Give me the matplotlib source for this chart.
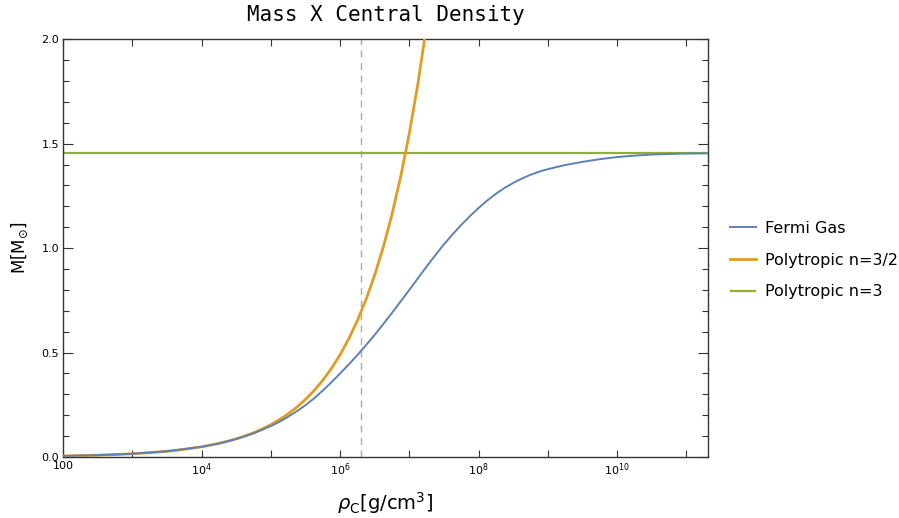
import matplotlib
matplotlib.use("Agg")
import matplotlib.pyplot as plt
from matplotlib.ticker import FixedLocator, FixedFormatter, NullFormatter

# ---- data ----
fermi_logrho = [2.00, 2.50, 3.00, 3.50, 4.00, 4.25, 4.50, 4.75,
                5.00, 5.125, 5.25, 5.375, 5.50, 5.625, 5.75, 5.875,
                6.00, 6.125, 6.25, 6.375, 6.50, 6.625, 6.75, 6.875,
                7.00, 7.125, 7.25, 7.375, 7.50, 7.625, 7.75, 7.875,
                8.00, 8.125, 8.25, 8.375, 8.50, 8.625, 8.75, 8.875,
                9.00, 9.25, 9.50, 9.75, 10.00, 10.25, 10.50, 10.75, 11.00, 11.31]
fermi_mass = [0.0049, 0.0087, 0.0155, 0.0275, 0.0488, 0.0648, 0.0860, 0.113,
              0.148, 0.169, 0.193, 0.219, 0.248, 0.281, 0.318, 0.358,
              0.400, 0.443, 0.488, 0.536, 0.585, 0.637, 0.690, 0.745,
              0.800, 0.856, 0.912, 0.966, 1.018, 1.066, 1.111, 1.153,
              1.192, 1.228, 1.260, 1.288, 1.312, 1.333, 1.351, 1.366,
              1.378, 1.398, 1.413, 1.426, 1.436, 1.443, 1.448, 1.451, 1.453, 1.454]

poly32_logrho = [2.000, 2.125, 2.250, 2.375, 2.500, 2.625, 2.750, 2.875,
                 3.000, 3.125, 3.250, 3.375, 3.500, 3.625, 3.750, 3.875,
                 4.000, 4.125, 4.250, 4.375, 4.500, 4.625, 4.750, 4.875,
                 5.000, 5.125, 5.250, 5.375, 5.500, 5.625, 5.750, 5.875,
                 6.000, 6.125, 6.250, 6.375, 6.500, 6.625, 6.750, 6.875,
                 7.000, 7.125, 7.250]
poly32_mass = [0.0049, 0.00566, 0.00653, 0.00755, 0.00871, 0.01006, 0.01162, 0.01342,
               0.0155, 0.01789, 0.02066, 0.02386, 0.02755, 0.03182, 0.03674, 0.04243,
               0.049, 0.0566, 0.0653, 0.0755, 0.0871, 0.1006, 0.1162, 0.1342,
               0.155, 0.1789, 0.2066, 0.2386, 0.2755, 0.3182, 0.3674, 0.4243,
               0.490, 0.5658, 0.6534, 0.7546, 0.8714, 1.0062, 1.1620, 1.3418,
               1.5495, 1.7893, 2.0663]

poly3_rho = [1e2, 2e11]
poly3_mass = [1.456, 1.456]

chandra_rho = 2.0e6

series_labels = ["Fermi Gas", "Polytropic n=3/2", "Polytropic n=3"]
colors = ["#5E81B5", "#E19C24", "#8FB032"]

x_major = [1e2, 1e4, 1e6, 1e8, 1e10]
x_major_labels = ["100", r"$10^{4}$", r"$10^{6}$", r"$10^{8}$", r"$10^{10}$"]
x_minor = [1e3, 1e5, 1e7, 1e9, 1e11]
y_major = [0.0, 0.5, 1.0, 1.5, 2.0]
y_major_labels = ["0.0", "0.5", "1.0", "1.5", "2.0"]
y_minor = [0.1, 0.2, 0.3, 0.4, 0.6, 0.7, 0.8, 0.9, 1.1, 1.2, 1.3, 1.4, 1.6, 1.7, 1.8, 1.9]

# ---- figure ----
fig = plt.figure(figsize=(8.99, 5.18), dpi=100)
ax = fig.add_axes([0.0704, 0.1178, 0.7168, 0.8063])

fermi_rho = [10 ** v for v in fermi_logrho]
poly32_rho = [10 ** v for v in poly32_logrho]

ax.axvline(chandra_rho, color="#AAAAAA", lw=1.0, ls=(0, (5, 4)), zorder=1)
l3, = ax.plot(poly3_rho, poly3_mass, color=colors[2], lw=1.6, zorder=2,
              solid_capstyle="butt")
l2, = ax.plot(poly32_rho, poly32_mass, color=colors[1], lw=2.0, zorder=3)
l1, = ax.plot(fermi_rho, fermi_mass, color=colors[0], lw=1.4, zorder=4)

ax.set_xscale("log")
ax.set_xlim(1e2, 2.05e11)
ax.set_ylim(0, 2.0)

ax.xaxis.set_major_locator(FixedLocator(x_major))
ax.xaxis.set_major_formatter(FixedFormatter(x_major_labels))
ax.xaxis.set_minor_locator(FixedLocator(x_minor))
ax.xaxis.set_minor_formatter(NullFormatter())
ax.yaxis.set_major_locator(FixedLocator(y_major))
ax.yaxis.set_major_formatter(FixedFormatter(y_major_labels))
ax.yaxis.set_minor_locator(FixedLocator(y_minor))

ax.tick_params(axis="both", which="both", direction="in", top=True, right=True,
               color="#333333", labelsize=8, pad=3)
ax.tick_params(axis="x", which="both", length=5, width=0.8)
ax.tick_params(axis="y", which="major", length=7, width=0.8)
ax.tick_params(axis="y", which="minor", length=4, width=0.8)
for s in ax.spines.values():
    s.set_color("#333333")
    s.set_linewidth(1.0)

ax.set_title("Mass X Central Density", fontfamily="DejaVu Sans Mono", fontsize=15, pad=13)
ax.set_xlabel(r"$\rho_{\rm C}$[g/cm$^3$]", fontsize=14, labelpad=9)
ax.set_ylabel(r"M[M$_{\odot}$]", fontsize=12, labelpad=8)

fig.legend([l1, l2, l3], series_labels, loc="center left",
           bbox_to_anchor=(0.805, 0.498), frameon=False, fontsize=11.5,
           handlelength=1.6, handletextpad=0.6, labelspacing=1.05, borderaxespad=0)

fig.savefig("out.png", dpi=100)
